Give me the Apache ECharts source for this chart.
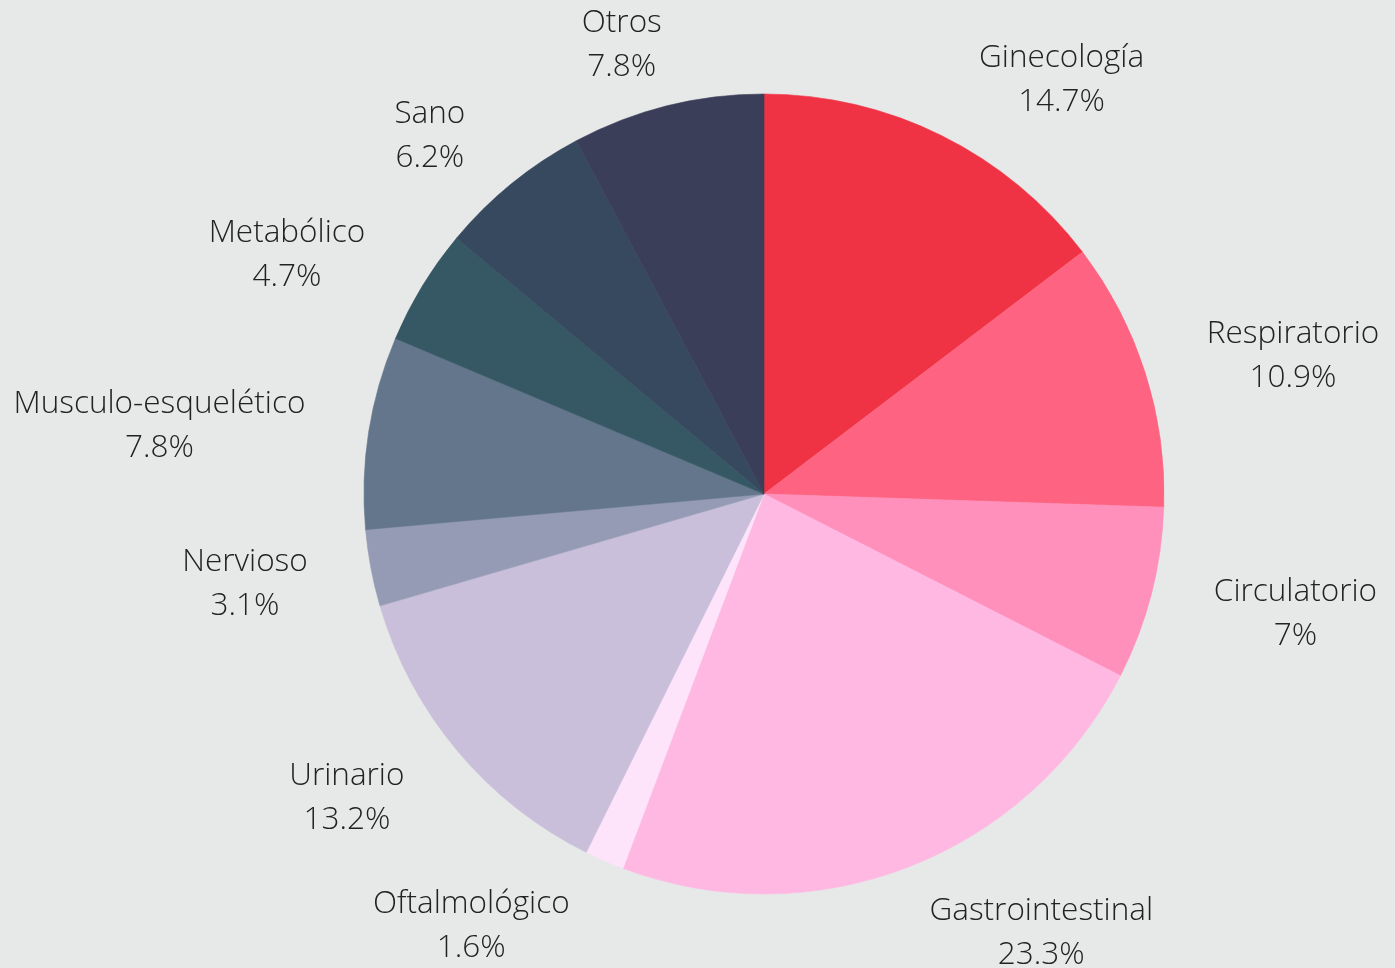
<!DOCTYPE html>
<html>
<head>
<meta charset="utf-8">
<script src="https://cdn.jsdelivr.net/npm/echarts@6/dist/echarts.min.js"></script>
<style>
  html, body { margin: 0; padding: 0; background: #e7e8e8; }
  #main { width: 1395px; height: 968px; }
</style>
</head>
<body>
<div id="main"></div>
<script>
  // datos del gráfico
  var categorias = ['Ginecología', 'Respiratorio', 'Circulatorio', 'Gastrointestinal', 'Oftalmológico',
    'Urinario', 'Nervioso', 'Musculo-esquelético', 'Metabólico', 'Sano', 'Otros'];
  var porcentajes = [14.7, 10.9, 7, 23.3, 1.6, 13.2, 3.1, 7.8, 4.7, 6.2, 7.8];
  var colores = ['#ef3344', '#fe6482', '#ff8fbb', '#ffb8e2', '#fee4fa',
    '#c9bfda', '#959bb4', '#63768c', '#365764', '#37495f', '#3a3e59'];

  var centro = [764, 494];
  var radio = 400;

  // angulo medio de cada sector (desde arriba, sentido horario)
  var total = porcentajes.reduce(function (a, b) { return a + b; }, 0);
  var angMedio = [];
  var acum = 0;
  porcentajes.forEach(function (v) {
    angMedio.push((acum + v / 2) / total * Math.PI * 2);
    acum += v;
  });

  var myChart = echarts.init(document.getElementById('main'));
  myChart.setOption({
    backgroundColor: '#e7e8e8',
    series: [{
      type: 'pie',
      center: centro,
      radius: radio,
      startAngle: 90,
      clockwise: true,
      avoidLabelOverlap: false,
      silent: true,
      animation: false,
      data: categorias.map(function (c, i) {
        // borde del mismo color para tapar las juntas entre sectores
        return { name: c, value: porcentajes[i],
          itemStyle: { color: colores[i], borderColor: colores[i], borderWidth: 0.6 } };
      }),
      label: {
        show: true,
        position: 'outside',
        formatter: '{b}\n{c}%',
        fontFamily: 'Open Sans',
        fontWeight: 300,
        fontSize: 31.5,
        lineHeight: 44,
        color: '#222222'
      },
      labelLine: { show: false },
      labelLayout: function (params) {
        var a = angMedio[params.dataIndex];
        var dx = Math.sin(a), dy = -Math.cos(a);
        var w = params.labelRect.width;
        var ax = centro[0] + dx * (radio + 48);
        var ay = centro[1] + dy * (radio + 48);
        var fx = Math.max(-1, Math.min(1, dx * 2.5));
        return {
          x: ax + fx * (w / 2 + 16),
          y: ay + dy * 19 + 4,
          align: 'center',
          verticalAlign: 'middle'
        };
      }
    }]
  });
</script>
</body>
</html>
